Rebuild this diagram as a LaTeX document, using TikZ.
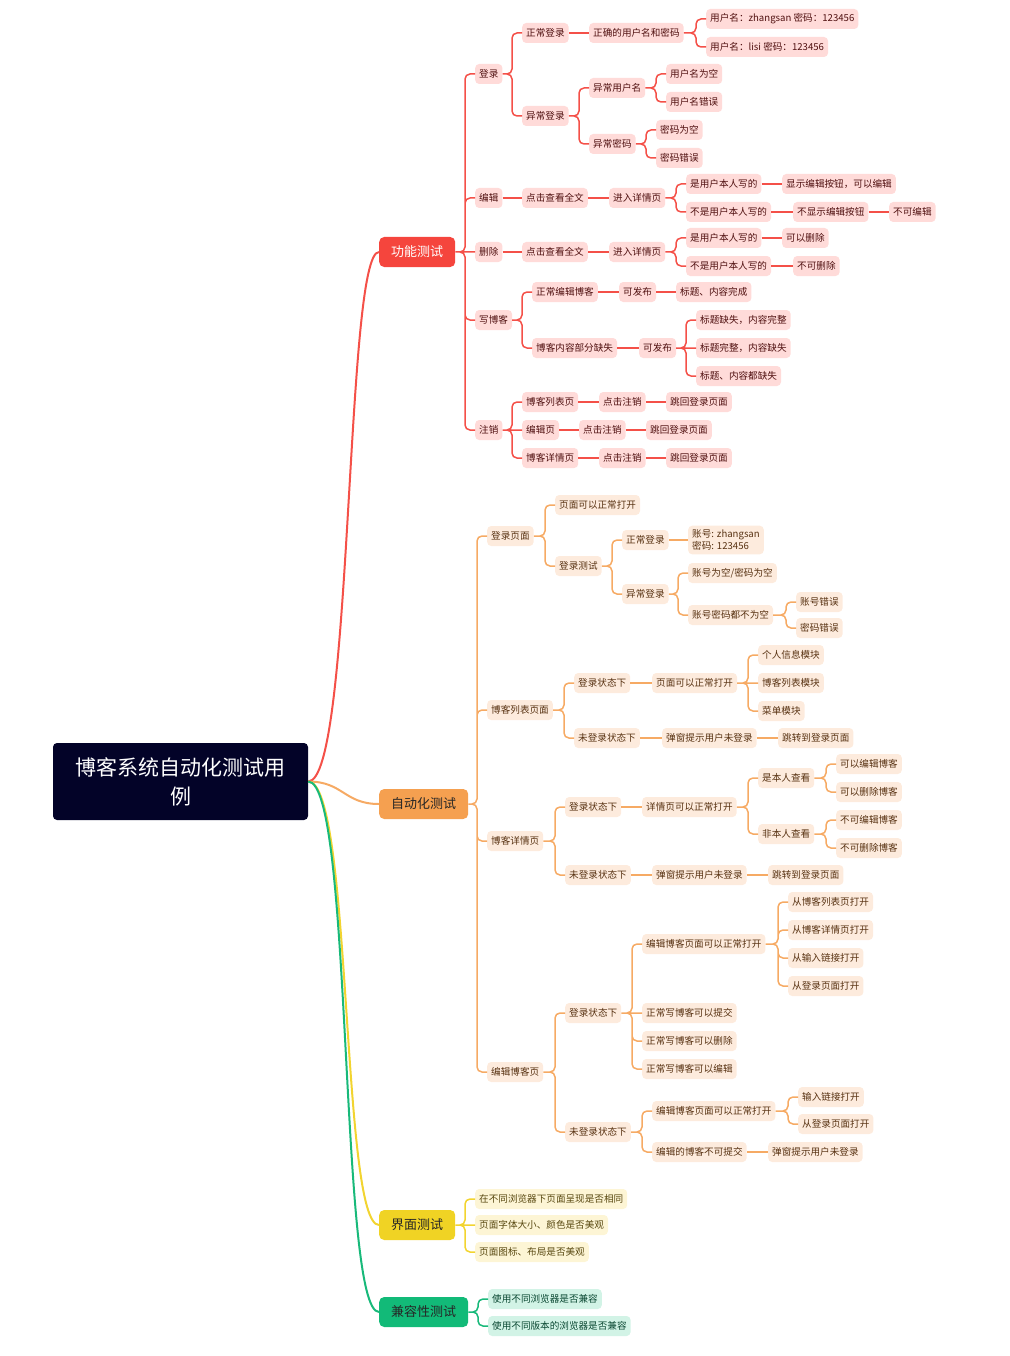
\documentclass[tikz,border=0pt]{standalone}
\usepackage{fontspec}
\setmainfont{Noto Sans CJK SC}
\definecolor{rootbg}{RGB}{3,3,40}
\definecolor{redtop}{RGB}{245,69,61}
\definecolor{redln}{RGB}{244,80,72}
\definecolor{redbg}{RGB}{255,219,217}
\definecolor{redtx}{RGB}{80,16,16}
\definecolor{orgtop}{RGB}{245,160,80}
\definecolor{orgln}{RGB}{246,170,100}
\definecolor{orgbg}{RGB}{253,235,221}
\definecolor{orgtx}{RGB}{88,50,18}
\definecolor{ylwtop}{RGB}{240,211,36}
\definecolor{ylwln}{RGB}{242,212,48}
\definecolor{ylwbg}{RGB}{253,245,213}
\definecolor{ylwtx}{RGB}{88,72,16}
\definecolor{grntop}{RGB}{18,186,120}
\definecolor{grnln}{RGB}{24,185,122}
\definecolor{grnbg}{RGB}{210,243,230}
\definecolor{grntx}{RGB}{10,72,50}

\begin{document}
\begin{tikzpicture}[x=1pt,y=-1pt,
  box/.style={anchor=west,rounded corners=4pt,inner xsep=4pt,inner ysep=2pt,
    minimum height=20pt,font=\fontsize{9.6}{12}\selectfont},
  rbox/.style={box,fill=redbg,text=redtx},
  obox/.style={box,fill=orgbg,text=orgtx},
  ybox/.style={box,fill=ylwbg,text=ylwtx},
  gbox/.style={box,fill=grnbg,text=grntx},
  topbox/.style={anchor=west,rounded corners=5pt,inner xsep=12pt,
    minimum height=30pt,font=\fontsize{13}{16}\selectfont,text=black!85},
  rootbox/.style={rounded corners=4pt,fill=rootbg,text=white,align=center,
    minimum width=255pt,minimum height=77pt,font=\fontsize{21}{29}\selectfont},
  br/.style={to path={-| ([xshift=-10pt]\tikztotarget.west) -- (\tikztotarget.west)}},
  lnk/.style={line width=1.5pt,rounded corners=5pt},
  rlink/.style={lnk,draw=redln},
  olink/.style={lnk,draw=orgln},
  ylink/.style={lnk,draw=ylwln},
  glink/.style={lnk,draw=grnln},
  curve/.style={line width=2pt}]

 \useasboundingbox (0,0) rectangle (1009,1356);

 % ---- root ----
 \node[rootbox] (root) at (180.5,781.5) {博客系统自动化测试用\\例};

 % ---- main branches ----
 \node[topbox,fill=redtop,text=white] (f) at (379,252) {功能测试};
 \node[topbox,fill=orgtop] (a) at (379,804) {自动化测试};
 \node[topbox,fill=ylwtop] (u) at (379,1225) {界面测试};
 \node[topbox,fill=grntop] (c) at (379,1312) {兼容性测试};

 \draw[curve,redln] (root.east) .. controls +(45,0) and +(-34,0) .. (f.west);
 \draw[curve,orgln] (root.east) .. controls +(35,0) and +(-35,0) .. (a.west);
 \draw[curve,ylwln] (root.east) .. controls +(44,0) and +(-38,0) .. (u.west);
 \draw[curve,grnln] (root.east) .. controls +(45,0) and +(-40,0) .. (c.west);

 % ---- 功能测试 ----
 \node[rbox] (f1) at (475,74) {登录};
 \node[rbox] (f2) at (475,198) {编辑};
 \node[rbox] (f3) at (475,252) {删除};
 \node[rbox] (f4) at (475,320) {写博客};
 \node[rbox] (f5) at (475,430) {注销};

 \node[rbox] (f11) at (522,33) {正常登录};
 \node[rbox] (f111) at (589,33) {正确的用户名和密码};
 \node[rbox] (f1111) at (706,19) {用户名：zhangsan 密码：123456};
 \node[rbox] (f1112) at (706,47) {用户名：lisi 密码：123456};
 \node[rbox] (f12) at (522,116) {异常登录};
 \node[rbox] (f121) at (589,88) {异常用户名};
 \node[rbox] (f1211) at (666,74) {用户名为空};
 \node[rbox] (f1212) at (666,102) {用户名错误};
 \node[rbox] (f122) at (589,144) {异常密码};
 \node[rbox] (f1221) at (656,130) {密码为空};
 \node[rbox] (f1222) at (656,158) {密码错误};

 \node[rbox] (f21) at (522,198) {点击查看全文};
 \node[rbox] (f211) at (609,198) {进入详情页};
 \node[rbox] (f2111) at (686,184) {是用户本人写的};
 \node[rbox] (f21111) at (782,184) {显示编辑按钮，可以编辑};
 \node[rbox] (f2112) at (686,212) {不是用户本人写的};
 \node[rbox] (f21121) at (793,212) {不显示编辑按钮};
 \node[rbox] (f211211) at (889,212) {不可编辑};

 \node[rbox] (f31) at (522,252) {点击查看全文};
 \node[rbox] (f311) at (609,252) {进入详情页};
 \node[rbox] (f3111) at (686,238) {是用户本人写的};
 \node[rbox] (f31111) at (782,238) {可以删除};
 \node[rbox] (f3112) at (686,266) {不是用户本人写的};
 \node[rbox] (f31121) at (793,266) {不可删除};

 \node[rbox] (f41) at (532,292) {正常编辑博客};
 \node[rbox] (f411) at (619,292) {可发布};
 \node[rbox] (f4111) at (676,292) {标题、内容完成};
 \node[rbox] (f42) at (532,348) {博客内容部分缺失};
 \node[rbox] (f421) at (639,348) {可发布};
 \node[rbox] (f4211) at (696,320) {标题缺失，内容完整};
 \node[rbox] (f4212) at (696,348) {标题完整，内容缺失};
 \node[rbox] (f4213) at (696,376) {标题、内容都缺失};

 \node[rbox] (f51) at (522,402) {博客列表页};
 \node[rbox] (f511) at (599,402) {点击注销};
 \node[rbox] (f5111) at (666,402) {跳回登录页面};
 \node[rbox] (f52) at (522,430) {编辑页};
 \node[rbox] (f521) at (579,430) {点击注销};
 \node[rbox] (f5211) at (646,430) {跳回登录页面};
 \node[rbox] (f53) at (522,458) {博客详情页};
 \node[rbox] (f531) at (599,458) {点击注销};
 \node[rbox] (f5311) at (666,458) {跳回登录页面};

 \draw[rlink] (f.east) to[br] (f1) (f.east) to[br] (f2) (f.east) -- (f3.west)
   (f.east) to[br] (f4) (f.east) to[br] (f5);
 \draw[rlink] (f1.east) to[br] (f11) (f1.east) to[br] (f12);
 \draw[rlink] (f11) -- (f111);
 \draw[rlink] (f111.east) to[br] (f1111) (f111.east) to[br] (f1112);
 \draw[rlink] (f12.east) to[br] (f121) (f12.east) to[br] (f122);
 \draw[rlink] (f121.east) to[br] (f1211) (f121.east) to[br] (f1212);
 \draw[rlink] (f122.east) to[br] (f1221) (f122.east) to[br] (f1222);
 \draw[rlink] (f2) -- (f21) (f21) -- (f211);
 \draw[rlink] (f211.east) to[br] (f2111) (f211.east) to[br] (f2112);
 \draw[rlink] (f2111) -- (f21111) (f2112) -- (f21121) (f21121) -- (f211211);
 \draw[rlink] (f3) -- (f31) (f31) -- (f311);
 \draw[rlink] (f311.east) to[br] (f3111) (f311.east) to[br] (f3112);
 \draw[rlink] (f3111) -- (f31111) (f3112) -- (f31121);
 \draw[rlink] (f4.east) to[br] (f41) (f4.east) to[br] (f42);
 \draw[rlink] (f41) -- (f411) (f411) -- (f4111) (f42) -- (f421);
 \draw[rlink] (f421.east) to[br] (f4211) (f421.east) -- (f4212.west)
   (f421.east) to[br] (f4213);
 \draw[rlink] (f5.east) to[br] (f51) (f5.east) -- (f52.west) (f5.east) to[br] (f53);
 \draw[rlink] (f51) -- (f511) (f511) -- (f5111) (f52) -- (f521) (f521) -- (f5211)
   (f53) -- (f531) (f531) -- (f5311);

 % ---- 自动化测试 ----
 \node[obox] (a1) at (487,536) {登录页面};
 \node[obox] (a2) at (487,710) {博客列表页面};
 \node[obox] (a3) at (487,841) {博客详情页};
 \node[obox] (a4) at (487,1072) {编辑博客页};

 \node[obox] (a11) at (555,505) {页面可以正常打开};
 \node[obox] (a12) at (555,566) {登录测试};
 \node[obox] (a121) at (622,540) {正常登录};
 \node[obox,align=left,inner ysep=4pt] (a1211) at (688,540) {账号: zhangsan\\密码: 123456};
 \node[obox] (a122) at (622,594) {异常登录};
 \node[obox] (a1221) at (688,573) {账号为空/密码为空};
 \node[obox] (a1222) at (688,615) {账号密码都不为空};
 \node[obox] (a12221) at (796,602) {账号错误};
 \node[obox] (a12222) at (796,628) {密码错误};

 \node[obox] (a21) at (574,683) {登录状态下};
 \node[obox] (a211) at (652,683) {页面可以正常打开};
 \node[obox] (a2111) at (758,655) {个人信息模块};
 \node[obox] (a2112) at (758,683) {博客列表模块};
 \node[obox] (a2113) at (758,711) {菜单模块};
 \node[obox] (a22) at (574,738) {未登录状态下};
 \node[obox] (a221) at (662,738) {弹窗提示用户未登录};
 \node[obox] (a2211) at (778,738) {跳转到登录页面};

 \node[obox] (a31) at (565,807) {登录状态下};
 \node[obox] (a311) at (642,807) {详情页可以正常打开};
 \node[obox] (a3111) at (758,778) {是本人查看};
 \node[obox] (a31111) at (836,764) {可以编辑博客};
 \node[obox] (a31112) at (836,792) {可以删除博客};
 \node[obox] (a3112) at (758,834) {非本人查看};
 \node[obox] (a31121) at (836,820) {不可编辑博客};
 \node[obox] (a31122) at (836,848) {不可删除博客};
 \node[obox] (a32) at (565,875) {未登录状态下};
 \node[obox] (a321) at (652,875) {弹窗提示用户未登录};
 \node[obox] (a3211) at (768,875) {跳转到登录页面};

 \node[obox] (a41) at (565,1013) {登录状态下};
 \node[obox] (a411) at (642,944) {编辑博客页面可以正常打开};
 \node[obox] (a4111) at (788,902) {从博客列表页打开};
 \node[obox] (a4112) at (788,930) {从博客详情页打开};
 \node[obox] (a4113) at (788,958) {从输入链接打开};
 \node[obox] (a4114) at (788,986) {从登录页面打开};
 \node[obox] (a412) at (642,1013) {正常写博客可以提交};
 \node[obox] (a413) at (642,1041) {正常写博客可以删除};
 \node[obox] (a414) at (642,1069) {正常写博客可以编辑};
 \node[obox] (a42) at (565,1132) {未登录状态下};
 \node[obox] (a421) at (652,1111) {编辑博客页面可以正常打开};
 \node[obox] (a4211) at (798,1097) {输入链接打开};
 \node[obox] (a4212) at (798,1124) {从登录页面打开};
 \node[obox] (a422) at (652,1152) {编辑的博客不可提交};
 \node[obox] (a4221) at (768,1152) {弹窗提示用户未登录};

 \draw[olink] (a.east) to[br] (a1) (a.east) to[br] (a2) (a.east) to[br] (a3)
   (a.east) to[br] (a4);
 \draw[olink] (a1.east) to[br] (a11) (a1.east) to[br] (a12);
 \draw[olink] (a12.east) to[br] (a121) (a12.east) to[br] (a122);
 \draw[olink] (a121) -- (a1211);
 \draw[olink] (a122.east) to[br] (a1221) (a122.east) to[br] (a1222);
 \draw[olink] (a1222.east) to[br] (a12221) (a1222.east) to[br] (a12222);
 \draw[olink] (a2.east) to[br] (a21) (a2.east) to[br] (a22);
 \draw[olink] (a21) -- (a211);
 \draw[olink] (a211.east) to[br] (a2111) (a211.east) -- (a2112.west)
   (a211.east) to[br] (a2113);
 \draw[olink] (a22) -- (a221) (a221) -- (a2211);
 \draw[olink] (a3.east) to[br] (a31) (a3.east) to[br] (a32);
 \draw[olink] (a31) -- (a311);
 \draw[olink] (a311.east) to[br] (a3111) (a311.east) to[br] (a3112);
 \draw[olink] (a3111.east) to[br] (a31111) (a3111.east) to[br] (a31112);
 \draw[olink] (a3112.east) to[br] (a31121) (a3112.east) to[br] (a31122);
 \draw[olink] (a32) -- (a321) (a321) -- (a3211);
 \draw[olink] (a4.east) to[br] (a41) (a4.east) to[br] (a42);
 \draw[olink] (a41.east) to[br] (a411) (a41.east) -- (a412.west)
   (a41.east) to[br] (a413) (a41.east) to[br] (a414);
 \draw[olink] (a411.east) to[br] (a4111) (a411.east) to[br] (a4112)
   (a411.east) to[br] (a4113) (a411.east) to[br] (a4114);
 \draw[olink] (a42.east) to[br] (a421) (a42.east) to[br] (a422);
 \draw[olink] (a421.east) to[br] (a4211) (a421.east) to[br] (a4212);
 \draw[olink] (a422) -- (a4221);

 % ---- 界面测试 ----
 \node[ybox] (u1) at (475,1199) {在不同浏览器下页面呈现是否相同};
 \node[ybox] (u2) at (475,1225) {页面字体大小、颜色是否美观};
 \node[ybox] (u3) at (475,1252) {页面图标、布局是否美观};
 \draw[ylink] (u.east) to[br] (u1) (u.east) -- (u2.west) (u.east) to[br] (u3);

 % ---- 兼容性测试 ----
 \node[gbox] (c1) at (488,1299) {使用不同浏览器是否兼容};
 \node[gbox] (c2) at (488,1326) {使用不同版本的浏览器是否兼容};
 \draw[glink] (c.east) to[br] (c1) (c.east) to[br] (c2);
\end{tikzpicture}
\end{document}
